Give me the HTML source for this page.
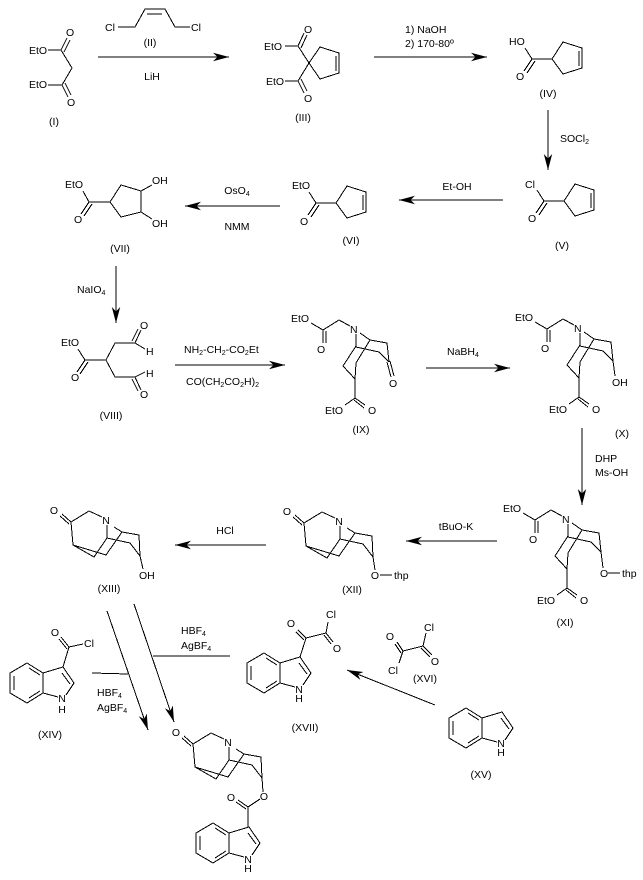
<!DOCTYPE html>
<html>
<head>
<meta charset="utf-8">
<title>Synthesis scheme</title>
<style>
html,body{margin:0;padding:0;background:#fff;width:643px;height:880px;overflow:hidden}
svg{display:block}
.b{fill:none;stroke:#000;stroke-width:1;shape-rendering:crispEdges}
text{font-family:"Liberation Sans",sans-serif;font-size:10.5px;fill:#000}
.m{text-anchor:middle}
.s{font-size:7px}
</style>
</head>
<body>
<svg width="643" height="880" viewBox="0 0 643 880" xmlns="http://www.w3.org/2000/svg">
<defs>
<marker id="a" markerUnits="userSpaceOnUse" markerWidth="18" markerHeight="10" refX="16" refY="5" orient="auto" overflow="visible">
<path d="M16 5L0 .8L4.5 5L0 9.2Z" fill="#000"/>
</marker>
<g id="acy"><path class="b" d="M525 48L532 59H552L563 42L582 48V68L563 74L552 59M532 59L524 71M535 61L527 73M579 51V66"/></g>
<g id="ix"><path class="b" d="M311 323L323 330L339 320L350 326M323 330V343M326 331V343M356 334V346L343 366L355 379V398M356 347L379 352L389 362M360 333L370 340L387 343L389 362M370 340L356 363L355 379M355 398L345 405M355 398L365 405M354 400L364 408"/></g>
<g id="xii"><path class="b" d="M295 515L304 523M293 517L302 525M304 523L322 512L335 518M340 526V539L327 558L306 546L304 523M347 528L355 533L372 536L373 557L363 544L340 539M355 533L339 556L306 546"/></g>
<g id="ind"><path class="b" d="M264 653L280 663V683L264 693L247 683V663ZM280 663L300 657L311 673L303 685M280 683L295 687M251 666V680M266 658L277 665M266 688L277 681M299 663L307 674"/></g>
</defs>

<!-- I -->
<path class="b" d="M48 50H61L72 68L62 85H48M61 50L67 38M64 52L70 40M62 85L68 97M65 83L71 95"/>
<text x="29" y="54">EtO</text><text x="66" y="36">O</text>
<text x="29" y="88">EtO</text><text x="67" y="106">O</text>
<text class="m" x="54" y="125">(I)</text>
<!-- II -->
<path class="b" d="M118 27H135L145 9H165L175 27H190M147 14H162"/>
<text class="m" x="110" y="31">Cl</text><text class="m" x="196" y="31">Cl</text>
<text class="m" x="150" y="46">(II)</text>
<!-- arrow I-III -->
<path class="b" marker-end="url(#a)" d="M98 57H229"/>
<text class="m" x="152" y="80">LiH</text>
<!-- III -->
<path class="b" d="M285 46H298L309 63L298 81H285M298 46L304 33M301 48L307 35M298 81L304 93M301 79L307 91M309 63L320 47L339 53V73L320 79L309 63M336 56V71"/>
<text x="264" y="50">EtO</text><text x="304" y="33">O</text>
<text x="266" y="85">EtO</text><text x="304" y="102">O</text>
<text class="m" x="303" y="121">(III)</text>
<!-- arrow III-IV -->
<path class="b" marker-end="url(#a)" d="M374 57H487"/>
<text x="405" y="33">1) NaOH</text><text x="405" y="47">2) 170-80º</text>
<!-- IV -->
<use href="#acy"/>
<text x="509" y="45">HO</text><text x="516" y="80">O</text>
<text class="m" x="548" y="97">(IV)</text>
<!-- arrow IV-V -->
<path class="b" marker-end="url(#a)" d="M548 110V170"/>
<text x="560" y="142">SOCl<tspan class="s" dy="2">2</tspan></text>
<!-- V -->
<use href="#acy" transform="translate(12 142)"/>
<text x="525" y="188">Cl</text><text x="528" y="222">O</text>
<text class="m" x="562" y="249">(V)</text>
<!-- arrow V-VI -->
<path class="b" marker-end="url(#a)" d="M503 200H399"/>
<text class="m" x="457" y="190">Et-OH</text>
<!-- VI -->
<use href="#acy" transform="translate(-216 144)"/>
<text x="292" y="189">EtO</text><text x="300" y="225">O</text>
<text class="m" x="351" y="244">(VI)</text>
<!-- arrow VI-VII -->
<path class="b" marker-end="url(#a)" d="M280 206H185"/>
<text class="m" x="237" y="194">OsO<tspan class="s" dy="2">4</tspan></text>
<text class="m" x="237" y="230">NMM</text>
<!-- VII -->
<path class="b" d="M83 191L89 202H110L121 185L141 191V212L121 217L110 202M89 202L81 214M92 204L84 216M141 191L152 185M141 212L152 219"/>
<text x="65" y="188">EtO</text><text x="74" y="223">O</text>
<text x="152" y="184">OH</text><text x="152" y="227">OH</text>
<text class="m" x="120" y="252">(VII)</text>
<!-- arrow VII-VIII -->
<path class="b" marker-end="url(#a)" d="M116 266V323"/>
<text x="77" y="293">NaIO<tspan class="s" dy="2">4</tspan></text>
<!-- VIII -->
<path class="b" d="M78 349L85 360H106L115 343H135L145 349M135 343L141 330M132 341L138 329M106 360L115 377H135L145 372M135 377L141 390M132 379L138 391M85 360L77 372M88 362L80 374"/>
<text x="61" y="346">EtO</text><text x="71" y="381">O</text>
<text x="140" y="329">O</text><text x="146" y="355">H</text>
<text x="146" y="377">H</text><text x="140" y="398">O</text>
<text class="m" x="111" y="419">(VIII)</text>
<!-- arrow VIII-IX -->
<path class="b" marker-end="url(#a)" d="M175 365H285"/>
<text x="184" y="353">NH<tspan class="s" dy="2">2</tspan><tspan dy="-2">-CH</tspan><tspan class="s" dy="2">2</tspan><tspan dy="-2">-CO</tspan><tspan class="s" dy="2">2</tspan><tspan dy="-2">Et</tspan></text>
<text x="186" y="385">CO(CH<tspan class="s" dy="2">2</tspan><tspan dy="-2">CO</tspan><tspan class="s" dy="2">2</tspan><tspan dy="-2">H)</tspan><tspan class="s" dy="2">2</tspan></text>
<!-- IX -->
<use href="#ix"/>
<path class="b" d="M387 362L391 377M390 361L394 376"/>
<text x="291" y="322">EtO</text><text x="317" y="353">O</text><text x="350" y="333">N</text>
<text x="389" y="387">O</text><text x="325" y="414">EtO</text><text x="368" y="414">O</text>
<text class="m" x="361" y="433">(IX)</text>
<!-- arrow IX-X -->
<path class="b" marker-end="url(#a)" d="M426 368H510"/>
<text x="447" y="355">NaBH<tspan class="s" dy="2">4</tspan></text>
<!-- X -->
<use href="#ix" transform="translate(224 -1)"/>
<path class="b" d="M613 361L615 376"/>
<text x="515" y="321">EtO</text><text x="541" y="352">O</text><text x="574" y="332">N</text>
<text x="612" y="386">OH</text><text x="549" y="413">EtO</text><text x="592" y="413">O</text>
<text class="m" x="622" y="437">(X)</text>
<!-- arrow X-XI -->
<path class="b" marker-end="url(#a)" d="M582 428V505"/>
<text x="595" y="462">DHP</text><text x="595" y="476">Ms-OH</text>
<!-- XI -->
<use href="#ix" transform="translate(212 190)"/>
<path class="b" d="M601 552L603 568M608 573H620"/>
<text x="503" y="512">EtO</text><text x="529" y="543">O</text><text x="562" y="523">N</text>
<text x="600" y="577">O</text><text x="622" y="577">thp</text>
<text x="537" y="604">EtO</text><text x="580" y="604">O</text>
<text class="m" x="565" y="626">(XI)</text>
<!-- arrow XI-XII -->
<path class="b" marker-end="url(#a)" d="M497 541H406"/>
<text class="m" x="456" y="530">tBuO-K</text>
<!-- XII -->
<use href="#xii"/>
<path class="b" d="M373 557L375 570M380 575H392"/>
<text class="m" x="287" y="515">O</text><text class="m" x="339" y="525">N</text>
<text class="m" x="375" y="579">O</text><text x="394" y="579">thp</text>
<text class="m" x="352" y="593">(XII)</text>
<!-- arrow XII-XIII -->
<path class="b" marker-end="url(#a)" d="M266 545H175"/>
<text class="m" x="225" y="534">HCl</text>
<!-- XIII -->
<use href="#xii" transform="translate(-233 -1)"/>
<path class="b" d="M140 556L143 569"/>
<text class="m" x="54" y="514">O</text><text class="m" x="106" y="524">N</text>
<text x="139" y="579">OH</text>
<text class="m" x="109" y="592">(XIII)</text>
<!-- coupling arrows -->
<path class="b" marker-end="url(#a)" d="M134 604L174 722"/>
<path class="b" marker-end="url(#a)" d="M107 611L148 730"/>
<path class="b" d="M153 656H230M92 673L128 674"/>
<text x="181" y="634">HBF<tspan class="s" dy="2">4</tspan></text>
<text x="181" y="649">AgBF<tspan class="s" dy="2">4</tspan></text>
<text x="97" y="696">HBF<tspan class="s" dy="2">4</tspan></text>
<text x="97" y="711">AgBF<tspan class="s" dy="2">4</tspan></text>
<!-- XIV -->
<use href="#ind" transform="translate(-237 10)"/>
<path class="b" d="M63 667L69 647L83 644M69 647L61 637M67 649L59 639"/>
<text class="m" x="55" y="636">O</text><text x="84" y="647">Cl</text>
<text class="m" x="62" y="702">N</text><text class="m" x="62" y="713">H</text>
<text class="m" x="50" y="738">(XIV)</text>
<!-- XVII -->
<use href="#ind"/>
<path class="b" d="M300 657L306 638L326 633L328 622M306 638L298 630M304 640L296 632M326 633L333 642M324 635L331 644"/>
<text class="m" x="291" y="627">O</text><text class="m" x="331" y="618">Cl</text><text class="m" x="337" y="652">O</text>
<text class="m" x="299" y="693">N</text><text class="m" x="299" y="702">H</text>
<text class="m" x="305" y="731">(XVII)</text>
<!-- XVI -->
<path class="b" d="M397 642L403 651L423 646L426 633M395 644L401 653M403 651L399 663M423 646L432 655M421 648L430 657"/>
<text class="m" x="390" y="640">O</text><text class="m" x="393" y="674">Cl</text>
<text class="m" x="429" y="631">Cl</text><text class="m" x="435" y="665">O</text>
<text class="m" x="425" y="682">(XVI)</text>
<!-- arrow XV-XVII -->
<path class="b" marker-end="url(#a)" d="M435 705L347 670"/>
<!-- XV -->
<use href="#ind" transform="translate(202 55)"/>
<text class="m" x="501" y="747">N</text><text class="m" x="501" y="756">H</text>
<text class="m" x="481" y="778">(XV)</text>
<!-- Product -->
<use href="#xii" transform="translate(-111 221)"/>
<path class="b" d="M262 778L263 792M260 799L248 807M248 807L238 800M246 809L236 802M248 807V827"/>
<use href="#ind" transform="translate(-51 170)"/>
<text class="m" x="176" y="736">O</text><text class="m" x="228" y="746">N</text>
<text class="m" x="264" y="800">O</text><text class="m" x="231" y="801">O</text>
<text class="m" x="248" y="863">N</text><text class="m" x="248" y="872">H</text>
</svg>
</body>
</html>
